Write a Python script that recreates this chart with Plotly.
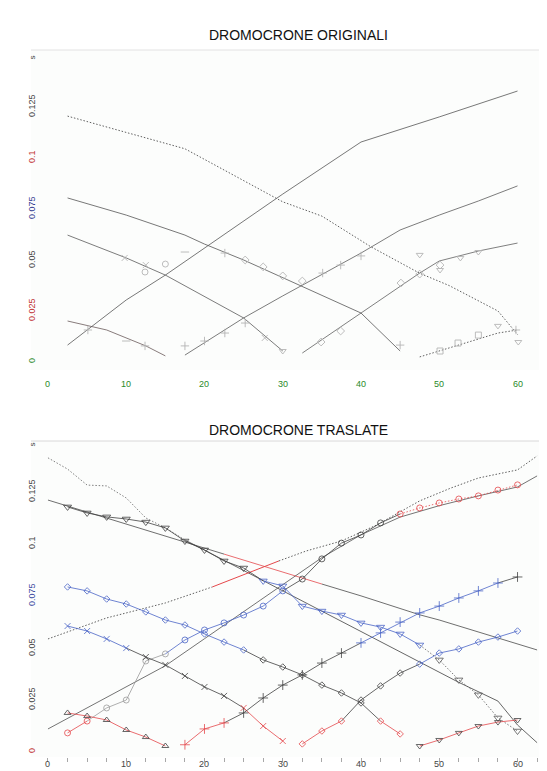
import plotly.graph_objects as go

# ---------------- TOP: original travel-time curves (x in m, t in s) ----------------
top_A_x = [2.5, 17.5, 30, 35, 41.25, 47.5, 51.25, 57.5, 60]
top_A_t = [0.120, 0.104, 0.078, 0.071, 0.056, 0.043, 0.037, 0.0245, 0.013]
top_B_x = [2.5, 10, 17.5, 20, 25, 30, 40, 45]
top_B_t = [0.0799, 0.0715, 0.0617, 0.0573, 0.0495, 0.0407, 0.0235, 0.0049]
top_C_x = [2.5, 10, 15, 25, 30]
top_C_t = [0.0617, 0.0505, 0.0421, 0.0211, 0.0049]
top_D_x = [2.5, 7.5, 12.5, 15]
top_D_t = [0.0196, 0.0152, 0.0074, 0.0025]
top_E_x = [2.5, 10, 15, 20, 25, 30, 40, 50, 60]
top_E_t = [0.0078, 0.0299, 0.0421, 0.0554, 0.0686, 0.0818, 0.1073, 0.1196, 0.1323]
top_F_x = [17.5, 25, 30, 40, 45, 50, 55, 60]
top_F_t = [0.0029, 0.0211, 0.0319, 0.0529, 0.0642, 0.0715, 0.0784, 0.0858]
top_G_x = [32.5, 40, 47.5, 50, 55, 60]
top_G_t = [0.0039, 0.0235, 0.0431, 0.049, 0.0539, 0.0578]
top_H_x = [47.5, 52.5, 57.5, 60]
top_H_t = [0.002, 0.0078, 0.0137, 0.0152]

# measured picks (light grey symbols) in the top panel
pk_x_x = [9.8, 12.5, 27.7]
pk_x_t = [0.0505, 0.047, 0.0113]
pk_o_x = [12.4, 15.0]
pk_o_t = [0.0436, 0.0475]
pk_m_x = [17.5, 10]
pk_m_t = [0.0534, 0.0098]
pk_p_x = [22.6, 5.1, 12.4, 17.5, 20, 22.6, 25.2, 35.1, 37.4, 40, 45, 59.8]
pk_p_t = [0.0529, 0.0152, 0.0074, 0.0074, 0.0098, 0.0137, 0.0186, 0.0431, 0.047, 0.0515, 0.0078, 0.0152]
pk_d_x = [25.2, 27.5, 30, 32.5, 45.1, 47.5, 50.1, 37.4, 34.9]
pk_d_t = [0.0495, 0.0461, 0.0417, 0.0392, 0.0382, 0.0426, 0.047, 0.0147, 0.0093]
pk_v_x = [47.5, 50.1, 52.7, 55, 57.5, 60.1, 30]
pk_v_t = [0.052, 0.0446, 0.0505, 0.0534, 0.0172, 0.0093, 0.0049]
pk_s_x = [55, 52.4, 50.1]
pk_s_t = [0.0127, 0.0088, 0.0049]

# ---------------- BOTTOM: shifted travel-time curves ----------------
b_D1_x = [0, 2.5, 5, 7.5, 10, 12.5, 15, 17.5, 30, 40, 52.5, 57.5, 60, 62.5]
b_D1_t = [0.141, 0.1356, 0.1279, 0.1275, 0.1217, 0.1121, 0.1073, 0.1015, 0.077, 0.0577, 0.033, 0.024, 0.0125, 0.004]
b_L1_x = [0, 10, 20, 22.5, 30, 35, 40, 47.5, 50, 62.5]
b_L1_t = [0.1207, 0.1092, 0.0976, 0.0947, 0.0861, 0.0803, 0.0746, 0.0655, 0.0630, 0.0486]
b_T1_x = [2.5, 5, 7.5, 10, 12.5, 15, 17.5, 20, 22.5, 25, 27.5, 30, 32.5, 35, 37.5, 40,
          42.5, 45, 47.5, 50, 52.5, 55, 57.5, 60]
b_T1_t = [0.1174, 0.1145, 0.1126, 0.1116, 0.1101, 0.1073, 0.101, 0.0967, 0.0914, 0.088,
          0.0818, 0.0794, 0.0697, 0.0673, 0.0654, 0.0616, 0.0596, 0.0563, 0.051, 0.0438,
          0.0342, 0.027, 0.0159, 0.0096]
b_U1_x = [0, 7.5, 15, 21, 29.5, 33, 37.5, 42, 47.5, 51.5, 55, 60, 62.5]
b_U1_t = [0.0539, 0.064, 0.0712, 0.0789, 0.0914, 0.0962, 0.101, 0.1087, 0.1203, 0.1265,
          0.1313, 0.1352, 0.1419]
b_S1_x = [0, 10, 15, 20, 25, 30, 35, 40, 45, 50, 55, 60, 62.5]
b_S1_t = [0.0106, 0.031, 0.041, 0.054, 0.067, 0.080, 0.093, 0.104, 0.1125, 0.118, 0.1227, 0.127, 0.1323]
b_E_x = [2.5, 5, 7.5, 10, 12.5, 15, 17.5, 20, 22.5, 25, 27.5, 30, 32.5, 35, 37.5, 40,
         42.5, 45, 47.5, 50, 52.5, 55, 57.5, 60]
b_E_t = [0.0087, 0.0144, 0.0207, 0.0245, 0.0433, 0.0467, 0.0534, 0.0582, 0.0616, 0.0654,
         0.0697, 0.077, 0.0827, 0.0924, 0.1000, 0.1039, 0.1097, 0.114, 0.1169, 0.1193,
         0.1212, 0.1227, 0.1255, 0.128]
b_B_x = [2.5, 5, 7.5, 10, 12.5, 15, 17.5, 20, 22.5, 25, 27.5, 30, 32.5, 35, 37.5, 40, 42.5, 45]
b_B_t = [0.0789, 0.077, 0.0731, 0.0707, 0.0669, 0.063, 0.0606, 0.0563, 0.0524, 0.0486,
         0.0438, 0.0404, 0.0366, 0.0317, 0.0279, 0.0231, 0.0144, 0.0082]
b_C_x = [2.5, 5, 7.5, 10, 12.5, 15, 17.5, 20, 22.5, 25, 27.5, 30]
b_C_t = [0.0601, 0.0577, 0.0539, 0.0495, 0.0452, 0.0414, 0.0361, 0.0308, 0.0265, 0.0207, 0.012, 0.0048]
b_D_x = [2.5, 5, 7.5, 10, 12.5, 15]
b_D_t = [0.0183, 0.0168, 0.0149, 0.0101, 0.0067, 0.0024]
b_F_x = [17.5, 20, 22.5, 25, 27.5, 30, 32.5, 35, 37.5, 40, 42.5, 45, 47.5, 50, 52.5, 55, 57.5, 60]
b_F_t = [0.003, 0.0106, 0.0135, 0.0183, 0.0255, 0.0317, 0.0366, 0.0423, 0.0471, 0.052,
         0.0568, 0.062, 0.0664, 0.0697, 0.0736, 0.077, 0.0808, 0.0837]
b_G_x = [32.5, 35, 37.5, 40, 42.5, 45, 47.5, 50, 52.5, 55, 57.5, 60]
b_G_t = [0.0034, 0.0096, 0.0144, 0.0245, 0.0313, 0.0375, 0.0418, 0.0471, 0.0491, 0.0524, 0.0548, 0.0577]
b_H_x = [47.5, 50, 52.5, 55, 57.5, 60]
b_H_t = [0.0024, 0.0053, 0.0087, 0.012, 0.0139, 0.0149]

y_ticks = [0, 0.025, 0.05, 0.075, 0.1, 0.125]
y_tick_text = ["0", "0.025", "0.05", "0.075", "0.1", "0.125"]
x_ticks = [0, 10, 20, 30, 40, 50, 60]
x_minor = [i * 2.5 for i in range(26)]

# ---------------- styling ----------------
K = "#404040"
R = "#e5484b"
BL = "#4a64c6"
GR = "#9a9a9a"
FONT = "Liberation Sans, Arial, sans-serif"
DOT = "1.5px,1.8px"

fig = go.Figure()


def add_curve(x, t, xa, ya, segs=(), default=K, dash="solid", width=0.8,
              symbol=None, msize=6, mdefault=None):
    def seg_at(xm):
        for s in segs:
            if s[0] <= xm <= s[1]:
                return s[2], (s[3] if len(s) > 3 else dash)
        return default, dash
    groups = []
    for k in range(len(x) - 1):
        st = seg_at((x[k] + x[k + 1]) / 2)
        if groups and groups[-1][0] == st and groups[-1][2] == k:
            groups[-1][2] = k + 1
        else:
            groups.append([st, k, k + 1])
    for (c, d), a, b in groups:
        fig.add_trace(go.Scatter(x=x[a:b + 1], y=t[a:b + 1], mode="lines",
                                 line=dict(color=c, width=width, dash=d),
                                 xaxis=xa, yaxis=ya, showlegend=False, hoverinfo="skip"))
    if symbol:
        cols = [mdefault or seg_at(v)[0] for v in x]
        fig.add_trace(go.Scatter(x=x, y=t, mode="markers",
                                 marker=dict(symbol=symbol, size=msize, color=cols,
                                             line=dict(color=cols, width=0.8)),
                                 xaxis=xa, yaxis=ya, showlegend=False, hoverinfo="skip"))


# top panel lines
add_curve(top_A_x, top_A_t, "x", "y", default="#606060", dash=DOT, width=1.0)
add_curve(top_B_x, top_B_t, "x", "y", default="#555555", width=0.8)
add_curve(top_C_x, top_C_t, "x", "y", default="#5a5a5a", width=0.8)
add_curve(top_D_x, top_D_t, "x", "y", default="#6a5a5a", width=0.8)
add_curve(top_E_x, top_E_t, "x", "y", default="#555555", width=0.8)
add_curve(top_F_x, top_F_t, "x", "y", default="#5a5a5a", width=0.8)
add_curve(top_G_x, top_G_t, "x", "y", default="#606060", width=0.8)
add_curve(top_H_x, top_H_t, "x", "y", default="#606060", dash=DOT, width=1.0)

pick_col = "#b4b4b4"
for px_, pt_, sym in [(pk_x_x, pk_x_t, "x-thin-open"), (pk_o_x, pk_o_t, "circle-open"),
                      (pk_m_x, pk_m_t, "line-ew-open"), (pk_p_x, pk_p_t, "cross-thin-open"),
                      (pk_d_x, pk_d_t, "diamond-open"), (pk_v_x, pk_v_t, "triangle-down-open"),
                      (pk_s_x, pk_s_t, "square-open")]:
    fig.add_trace(go.Scatter(x=px_, y=pt_, mode="markers",
                             marker=dict(symbol=sym, size=6, color=pick_col,
                                         line=dict(color=pick_col, width=0.9)),
                             xaxis="x", yaxis="y", showlegend=False, hoverinfo="skip"))

# bottom panel lines
add_curve(b_D1_x, b_D1_t, "x2", "y2", segs=[(0, 17.5, "#606060", DOT)], default=K, width=0.8)
add_curve(b_L1_x, b_L1_t, "x2", "y2", segs=[(22.5, 35, R)], default="#4a4a4a", width=0.8)
add_curve(b_U1_x, b_U1_t, "x2", "y2", segs=[(21, 29.5, R, "solid")], default="#606060",
          dash=DOT, width=1.0)
add_curve(b_S1_x, b_S1_t, "x2", "y2", default="#505050", width=0.8)
add_curve(b_T1_x, b_T1_t, "x2", "y2", segs=[(27.5, 47.5, BL), (47.5, 60, "#555555", DOT)],
          default=K, symbol="triangle-down-open", msize=7)
add_curve(b_E_x, b_E_t, "x2", "y2", segs=[(2.5, 5, R), (5, 15, GR), (15, 30, BL), (45, 60, R, DOT)],
          default=K, symbol="circle-open", msize=6)
add_curve(b_B_x, b_B_t, "x2", "y2", segs=[(2.5, 25, BL), (42.5, 45, R)],
          default=K, symbol="diamond-open", msize=5)
add_curve(b_C_x, b_C_t, "x2", "y2", segs=[(2.5, 10, BL), (25, 30, R)],
          default=K, symbol="x-thin-open", msize=6)
add_curve(b_D_x, b_D_t, "x2", "y2", segs=[(2.5, 15, R)], default=R,
          symbol="triangle-up-open", msize=6, mdefault=K)
add_curve(b_F_x, b_F_t, "x2", "y2", segs=[(17.5, 22.5, R), (40, 57.5, BL)],
          default=K, symbol="cross-thin-open", msize=7)
add_curve(b_G_x, b_G_t, "x2", "y2", segs=[(32.5, 37.5, R), (47.5, 60, BL)],
          default=K, symbol="diamond-open", msize=5)
add_curve(b_H_x, b_H_t, "x2", "y2", segs=[(47.5, 60, R)], default=R,
          symbol="triangle-down-open", msize=6, mdefault="#444444")

# ---------------- axes ----------------
X_RANGE = [-2.17, 64.79]
X_DOM = [23 / 547, 1.0]
TOP_DOM = [1 - 362 / 771, 1 - 42 / 771]
BOT_DOM = [1 - 749 / 771, 1 - 433 / 771]

common = dict(showgrid=False, zeroline=False, showline=False)
fig.update_layout(
    width=547, height=771,
    margin=dict(l=0, r=0, t=0, b=0),
    paper_bgcolor="white", plot_bgcolor="#fcfdfc",
    font=dict(family=FONT, size=9, color="#333333"),
    xaxis=dict(domain=X_DOM, range=X_RANGE, anchor="y", showticklabels=False, ticks="", **common),
    yaxis=dict(domain=TOP_DOM, range=[-0.00441, 0.1524], anchor="x", showticklabels=False, ticks="", **common),
    xaxis2=dict(domain=X_DOM, range=X_RANGE, anchor="y2", showticklabels=False,
                tickmode="array", tickvals=x_minor, ticks="outside", ticklen=4,
                tickcolor="#a8a8a8", tickwidth=1, **common),
    yaxis2=dict(domain=BOT_DOM, range=[-0.00289, 0.1491], anchor="x2", showticklabels=False, ticks="", **common),
)

ann = []
# titles
ann.append(dict(text="DROMOCRONE ORIGINALI", x=290 / 547, y=1 - 17 / 771, xref="paper", yref="paper",
                showarrow=False, font=dict(size=14, color="#111111", family=FONT)))
ann.append(dict(text="DROMOCRONE TRASLATE", x=290 / 547, y=1 - 422 / 771, xref="paper", yref="paper",
                showarrow=False, font=dict(size=14, color="#111111", family=FONT)))

top_y_cols = ["#2a8a2a", "#c03030", "#444444", "#303a90", "#c03030", "#444444"]
bot_y_cols = ["#c03030", "#444444", "#444444", "#3a4aa0", "#444444", "#444444"]
for v, txt, c in zip(y_ticks, y_tick_text, top_y_cols):
    ann.append(dict(text=txt, x=17 / 547, y=v, xref="paper", yref="y", textangle=-90,
                    showarrow=False, font=dict(size=9, color=c)))
for v, txt, c in zip(y_ticks, y_tick_text, bot_y_cols):
    ann.append(dict(text=txt, x=17 / 547, y=v, xref="paper", yref="y2", textangle=-90,
                    showarrow=False, font=dict(size=9, color=c)))
for v in x_ticks:
    ann.append(dict(text=str(v), x=v, y=1 - 376 / 771, xref="x", yref="paper",
                    showarrow=False, font=dict(size=9, color="#2a8a2a")))
    ann.append(dict(text=str(v), x=v, y=1 - 763 / 771, xref="x2", yref="paper",
                    showarrow=False, font=dict(size=9, color="#444444")))
# axis unit labels
ann.append(dict(text="s", x=17 / 547, y=1 - 46 / 771, xref="paper", yref="paper", textangle=-90,
                showarrow=False, font=dict(size=8, color="#444444")))
ann.append(dict(text="s", x=17 / 547, y=1 - 437 / 771, xref="paper", yref="paper", textangle=-90,
                showarrow=False, font=dict(size=8, color="#444444")))
ann.append(dict(text="m", x=541 / 547, y=1 - 375 / 771, xref="paper", yref="paper", textangle=-90,
                showarrow=False, font=dict(size=9, color="#444444")))
ann.append(dict(text="m", x=541 / 547, y=1 - 763 / 771, xref="paper", yref="paper",
                showarrow=False, font=dict(size=9, color="#444444")))
fig.update_layout(annotations=ann)

# thin frame lines along the top of each panel
fig.update_layout(shapes=[
    dict(type="line", xref="paper", yref="paper", x0=23 / 547, x1=1, y0=TOP_DOM[1], y1=TOP_DOM[1],
         line=dict(color="#e2e2e2", width=1)),
    dict(type="line", xref="paper", yref="paper", x0=23 / 547, x1=1, y0=BOT_DOM[1], y1=BOT_DOM[1],
         line=dict(color="#d8d8d8", width=1)),
])

fig.write_html("out.html")
